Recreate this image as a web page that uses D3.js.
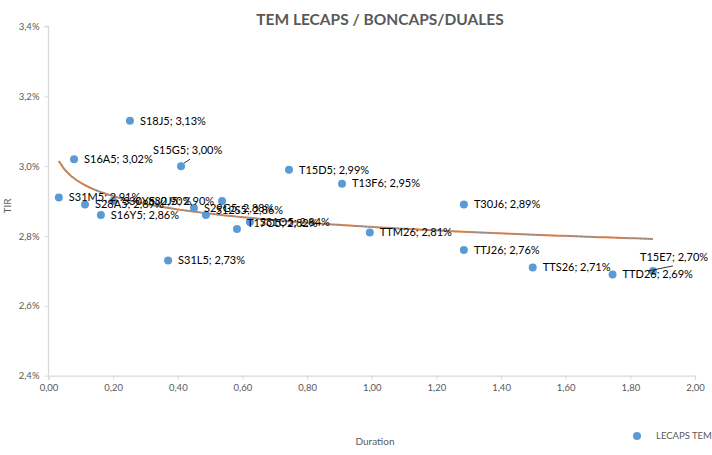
<!DOCTYPE html>
<html><head><meta charset="utf-8">
<script src="https://cdn.jsdelivr.net/npm/d3@7"></script>
<style>body{margin:0;background:#fff}svg{display:block}text{font-family:Lato,"Liberation Sans",sans-serif}</style>
</head><body><svg id="c" width="712" height="455"></svg>
<script>
const names = ["S31M5","S16A5","S28A5","S16Y5","S30Y5","S18J5","S31L5","S15G5","S29G5","S12S5","S30J5","T17O5","S31O5","T15D5","T13F6","TTM26","T30J6","TTJ26","TTS26","TTD26","T15E7"];
const duration = [0.032,0.079,0.113,0.162,0.200,0.252,0.370,0.410,0.450,0.487,0.537,0.583,0.623,0.744,0.908,0.994,1.285,1.285,1.498,1.745,1.870];
const tir = [2.91,3.02,2.89,2.86,2.90,3.13,2.73,3.00,2.88,2.86,2.90,2.82,2.84,2.99,2.95,2.81,2.89,2.76,2.71,2.69,2.70];
const xTicks = [0,0.2,0.4,0.6,0.8,1.0,1.2,1.4,1.6,1.8,2.0];
const yTicks = [2.4,2.6,2.8,3.0,3.2,3.4];
const title = "TEM LECAPS / BONCAPS/DUALES";
const seriesName = "LECAPS TEM";

// label layout tweaks (presentation only)
const labelLayout = {
  "S15G5": {dx:-28, dy:-16, leader:[3,-3,9,-7]},
  "T15E7": {dx:-13, dy:-14, leader:[-5,0,20,-5]},
  "S30J5": {dx:-8, dy:0, anchor:"end"},
  "S12S5": {dx:10, dy:-5},
  "T17O5": {dx:10, dy:-6}
};

const data = names.map((n,i)=>({name:n, x:duration[i], y:tir[i]}));
const fmtPct = v => d3.format(".2f")(v).replace(".",",")+"%";
const fmtY = v => d3.format(".1f")(v).replace(".",",")+"%";
const fmtX = v => d3.format(".2f")(v).replace(".",",");

const svg = d3.select("#c");
const x = d3.scaleLinear().domain([0,2]).range([48.5,695]);
const y = d3.scaleLinear().domain([2.4,3.4]).range([375.7,26.5]);
const grey = "#595959", axisCol = "#d9d9d9";

// title
svg.append("text").attr("x",380).attr("y",25).attr("text-anchor","middle")
  .attr("font-size",15.5).attr("font-weight","bold").attr("fill",grey).text(title);

// axes
const xAxis = svg.append("g").attr("transform",`translate(0,${y(2.4)})`)
  .call(d3.axisBottom(x).tickValues(xTicks).tickFormat(fmtX).tickSize(4).tickPadding(5));
const yAxis = svg.append("g").attr("transform",`translate(${x(0)},0)`)
  .call(d3.axisLeft(y).tickValues(yTicks).tickFormat(fmtY).tickSize(4).tickPadding(5));
[xAxis,yAxis].forEach(g=>{
  g.select(".domain").attr("stroke",axisCol).attr("stroke-width",1.3);
  g.selectAll(".tick line").attr("stroke",axisCol).attr("stroke-width",1);
  g.selectAll(".tick text").attr("fill",grey).attr("font-size",9.5).attr("font-family","Lato,sans-serif");
});
yAxis.select(".domain").attr("d",`M-4,${y(3.4)}H0V${y(2.4)}`);

// axis titles
svg.append("text").attr("transform",`translate(11,206) rotate(-90)`).attr("text-anchor","middle")
  .attr("font-size",10).attr("fill",grey).text("TIR");
svg.append("text").attr("x",375).attr("y",445).attr("text-anchor","middle")
  .attr("font-size",10).attr("fill",grey).text("Duration");

// logarithmic trendline from data
const lx = data.map(d=>Math.log(d.x)), ly = data.map(d=>d.y);
const mL = d3.mean(lx), mY = d3.mean(ly);
const b = d3.sum(lx.map((v,i)=>(v-mL)*(ly[i]-mY))) / d3.sum(lx.map(v=>(v-mL)*(v-mL)));
const a = mY - b*mL;
const xmin = d3.min(duration), xmax = d3.max(duration);
const tr = d3.range(0,101).map(i=>{const xv = xmin + (xmax-xmin)*i/100; return [xv, a + b*Math.log(xv)];});
const line = d3.line().x(d=>x(d[0])).y(d=>y(d[1]));
svg.append("path").attr("d",line(tr)).attr("fill","none").attr("stroke","#ED7D31").attr("stroke-width",2);
svg.append("path").attr("d",line(tr)).attr("fill","none").attr("stroke","#5B9BD5").attr("stroke-width",1.3).attr("stroke-dasharray","2,2");

// points
svg.append("g").selectAll("circle").data(data).join("circle")
  .attr("cx",d=>x(d.x)).attr("cy",d=>y(d.y)).attr("r",4).attr("fill","#5B9BD5");

// leader lines
data.forEach(d=>{
  const L = labelLayout[d.name];
  if (L && L.leader) {
    svg.append("line").attr("x1",x(d.x)+L.leader[0]).attr("y1",y(d.y)+L.leader[1])
      .attr("x2",x(d.x)+L.leader[2]).attr("y2",y(d.y)+L.leader[3]).attr("stroke","#000").attr("stroke-width",0.8);
  }
});

// labels
svg.append("g").selectAll("text").data(data).join("text")
  .attr("x",d=>x(d.x)+((labelLayout[d.name]||{}).dx ?? 10))
  .attr("y",d=>y(d.y)+((labelLayout[d.name]||{}).dy ?? 0))
  .attr("dy","0.35em")
  .attr("text-anchor",d=>(labelLayout[d.name]||{}).anchor || "start")
  .attr("font-size",11).attr("fill","#000")
  .text(d=>`${d.name}; ${fmtPct(d.y)}`);

// legend
svg.append("circle").attr("cx",637).attr("cy",436).attr("r",4).attr("fill","#5B9BD5");
svg.append("text").attr("x",656).attr("y",436).attr("dy","0.35em").attr("font-size",9.5).attr("fill",grey).text(seriesName);
</script>
</body></html>
